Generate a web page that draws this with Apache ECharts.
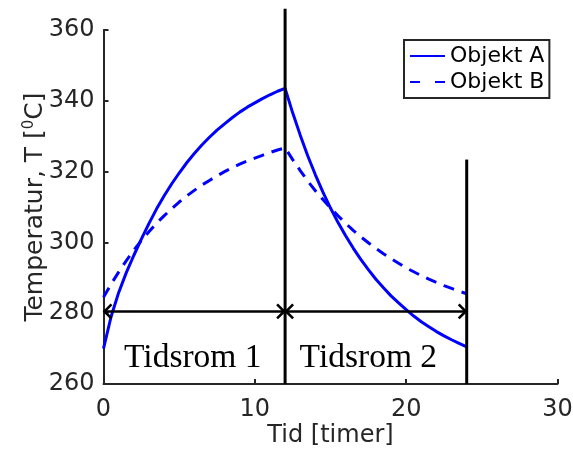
<!DOCTYPE html>
<html>
<head>
<meta charset="utf-8">
<script src="https://cdn.jsdelivr.net/npm/echarts@6/dist/echarts.min.js"></script>
<style>
html,body{margin:0;padding:0;background:#fff;}
#c{width:573px;height:449px;}
</style>
</head>
<body>
<div id="c"></div>
<script>
// ---- data ----
const timeHours = [0,0.5,1,1.5,2,2.5,3,3.5,4,4.5,5,5.5,6,6.5,7,7.5,8,8.5,9,9.5,10,10.5,11,11.5,12,
  12.5,13,13.5,14,14.5,15,15.5,16,16.5,17,17.5,18,18.5,19,19.5,20,20.5,21,21.5,22,22.5,23,23.5,24];
const objektA = [270.0,279.0,285.8,291.4,296.3,300.9,305.3,309.4,313.1,316.5,319.6,322.5,325.1,327.5,329.7,331.7,333.5,335.2,336.8,338.2,339.4,340.6,341.7,342.7,343.5,
  336.6,330.3,324.4,319.1,314.2,309.7,305.6,301.9,298.4,295.2,292.3,289.6,287.2,284.9,282.9,281.0,279.2,277.6,276.2,274.8,273.6,272.5,271.5,270.5];
const objektB = [284.5,288.2,291.6,294.8,297.8,300.5,303.0,305.4,307.5,309.5,311.4,313.1,314.7,316.2,317.5,318.8,320.0,321.1,322.1,323.0,323.8,324.6,325.4,326.1,326.7,
  323.4,320.3,317.3,314.6,312.1,309.7,307.5,305.4,303.4,301.6,299.9,298.3,296.8,295.4,294.1,292.8,291.7,290.6,289.6,288.7,287.8,287.0,286.2,285.5];
const seriesNames = ['Objekt A', 'Objekt B'];
const xMin = 0, xMax = 30, xStep = 10;
const yMin = 260, yMax = 360, yStep = 20;
const dividerTimes = [12, 24];
const dividerTops = [366, 323.4];
const spanStarts = [0, 12];
const spanEnds = [12, 24];
const spanArrowY = [280.5, 280.5];
const spanLabels = ['Tidsrom 1', 'Tidsrom 2'];
const spanLabelX = [5.9, 17.5];
const spanLabelY = [267.3, 267.3];
const xName = 'Tid [timer]';
const yNameParts = ['Temperatur, T [', '0', 'C]'];

// ---- chart ----
const AX = '#262626';
const FONT = 'DejaVu Sans';
const chart = echarts.init(document.getElementById('c'), null, {renderer: 'canvas'});

const dataA = timeHours.map((t, i) => [t, objektA[i]]);
const dataB = timeHours.map((t, i) => [t, objektB[i]]);
const dividerData = dividerTimes.map((t, i) => [t, yMin, dividerTops[i]]);
const spanData = spanStarts.map((s, i) => [s, spanEnds[i], spanArrowY[i]]);
const labelData = spanLabelX.map((x, i) => [x, spanLabelY[i], i]);

const option = {
  animation: false,
  backgroundColor: '#fff',
  grid: {left: 103.5, right: 15.5, top: 30, bottom: 65, containLabel: false, outerBoundsMode: 'none'},
  legend: {
    orient: 'vertical',
    left: 404, top: 40,
    padding: [3, 5, 3, 5],
    itemGap: 0,
    itemWidth: 35, itemHeight: 26,
    itemTextGap: 3,
    borderColor: AX, borderWidth: 2,
    backgroundColor: '#fff',
    itemStyle: {color: 'rgba(0,0,0,0)', borderColor: 'rgba(0,0,0,0)', borderWidth: 0},
    textStyle: {fontFamily: FONT, fontSize: 22, color: '#000', lineHeight: 26},
    data: [
      {name: seriesNames[0]},
      {name: seriesNames[1], lineStyle: {type: [10, 15]}}
    ]
  },
  xAxis: {
    type: 'value', min: xMin, max: xMax, interval: xStep,
    name: xName, nameLocation: 'middle', nameGap: 40, nameMoveOverlap: false,
    nameTextStyle: {fontFamily: FONT, fontSize: 24, color: AX},
    axisLine: {show: true, lineStyle: {color: AX, width: 2}},
    axisTick: {show: true, inside: true, length: 5, lineStyle: {color: AX, width: 2}},
    axisLabel: {fontFamily: FONT, fontSize: 24, color: AX, margin: 14},
    splitLine: {show: false}
  },
  yAxis: {
    type: 'value', min: yMin, max: yMax, interval: yStep,
    name: '{a|' + yNameParts[0] + '}{s|' + yNameParts[1] + '}{a|' + yNameParts[2] + '}',
    nameLocation: 'middle', nameGap: 54, nameMoveOverlap: false,
    nameTextStyle: {
      fontFamily: FONT, fontSize: 25, color: AX,
      rich: {
        a: {fontFamily: FONT, fontSize: 25, color: AX, lineHeight: 28},
        s: {fontFamily: FONT, fontSize: 15, color: AX, lineHeight: 28, verticalAlign: 'top', padding: [0, 0, 8, 0]}
      }
    },
    axisLine: {show: true, lineStyle: {color: AX, width: 2}},
    axisTick: {show: true, inside: true, length: 5, lineStyle: {color: AX, width: 2}},
    axisLabel: {fontFamily: FONT, fontSize: 24, color: AX, margin: 9},
    splitLine: {show: false}
  },
  series: [
    {
      name: seriesNames[0], type: 'line', data: dataA,
      symbol: 'none', showSymbol: false, smooth: false, z: 2,
      lineStyle: {color: '#0000ff', width: 3, type: 'solid'},
      itemStyle: {color: '#0000ff'}
    },
    {
      name: seriesNames[1], type: 'line', data: dataB,
      symbol: 'none', showSymbol: false, smooth: false, z: 2,
      lineStyle: {color: '#0000ff', width: 3, type: [11, 8]},
      itemStyle: {color: '#0000ff'}
    },
    {
      name: 'dividers', type: 'custom', clip: false, z: 4, silent: true,
      data: dividerData,
      encode: {x: 0, y: [1, 2]},
      renderItem: function (params, api) {
        const p1 = api.coord([api.value(0), api.value(1)]);
        const p2 = api.coord([api.value(0), api.value(2)]);
        return {type: 'line', shape: {x1: p1[0], y1: p1[1], x2: p2[0], y2: p2[1]},
          style: {stroke: '#000', lineWidth: 3}};
      }
    },
    {
      name: 'spans', type: 'custom', clip: false, z: 4, silent: true,
      data: spanData,
      encode: {x: [0, 1], y: 2},
      renderItem: function (params, api) {
        const a = api.coord([api.value(0), api.value(2)]);
        const b = api.coord([api.value(1), api.value(2)]);
        const w = 8, h = 7;
        const st = {stroke: '#000', lineWidth: 2.6, fill: null};
        return {type: 'group', children: [
          {type: 'line', shape: {x1: a[0], y1: a[1], x2: b[0], y2: b[1]}, style: st},
          {type: 'polyline', shape: {points: [[a[0] + w, a[1] - h], [a[0] + 1, a[1]], [a[0] + w, a[1] + h]]}, style: st},
          {type: 'polyline', shape: {points: [[b[0] - w, b[1] - h], [b[0] - 1, b[1]], [b[0] - w, b[1] + h]]}, style: st}
        ]};
      }
    },
    {
      name: 'spanLabels', type: 'custom', clip: false, z: 4, silent: true,
      data: labelData,
      encode: {x: 0, y: 1},
      renderItem: function (params, api) {
        const p = api.coord([api.value(0), api.value(1)]);
        return {type: 'text', x: p[0], y: p[1],
          style: {text: spanLabels[api.value(2)], fontFamily: 'Liberation Serif', fontSize: 33.5,
            fill: '#000', align: 'center', verticalAlign: 'middle'}};
      }
    }
  ]
};
chart.setOption(option);
</script>
</body>
</html>
